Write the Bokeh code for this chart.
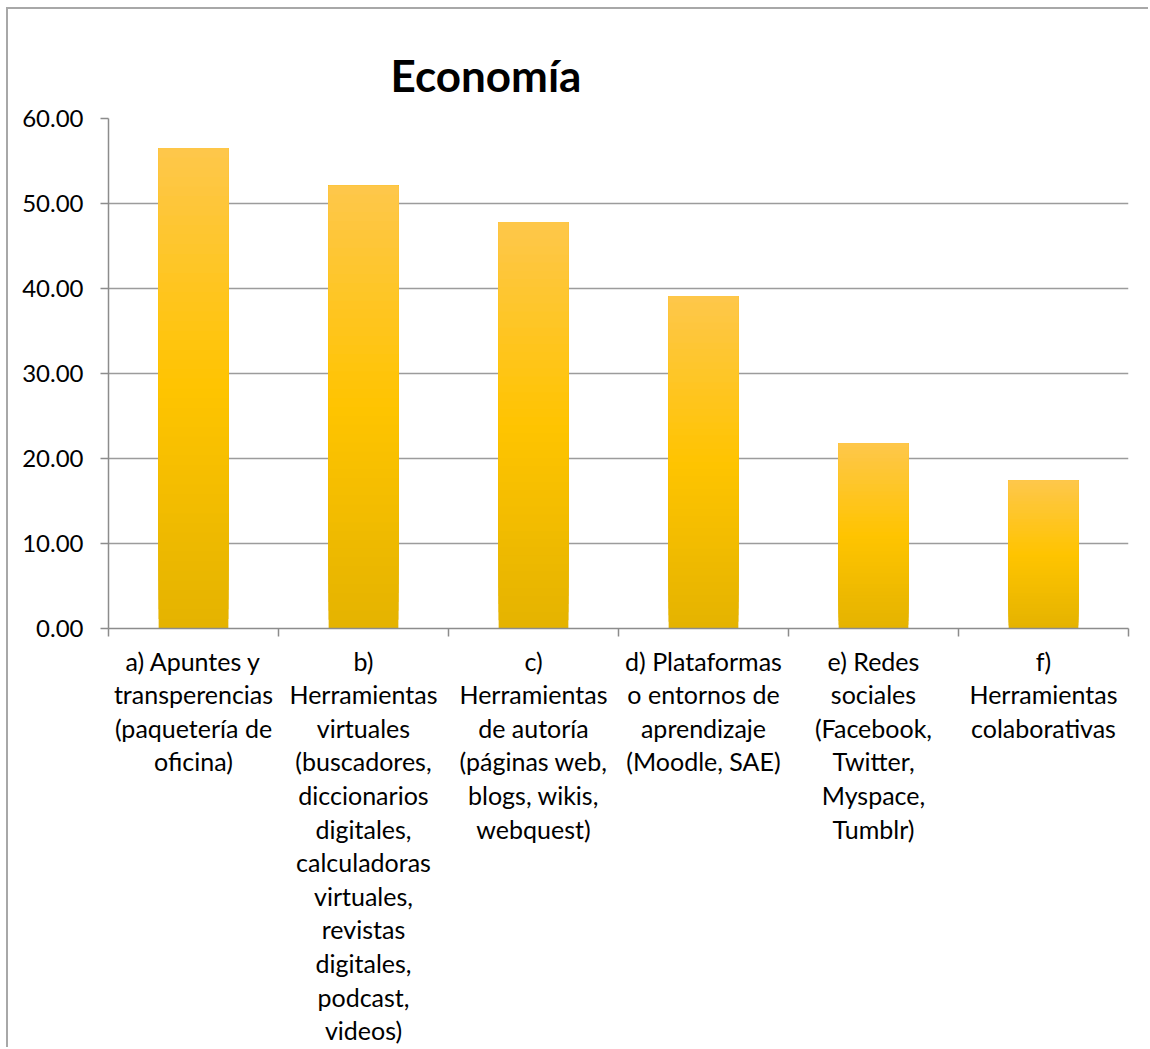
from bokeh.plotting import figure
from bokeh.models import Range1d, FixedTicker, NumeralTickFormatter, ColumnDataSource
from bokeh.embed import file_html
from bokeh.resources import INLINE

# ---- data ----
labels = [
    "a) Apuntes y\ntransperencias\n(paquetería de\noficina)",
    "b)\nHerramientas\nvirtuales\n(buscadores,\ndiccionarios\ndigitales,\ncalculadoras\nvirtuales,\nrevistas\ndigitales,\npodcast,\nvideos)",
    "c)\nHerramientas\nde autoría\n(páginas web,\nblogs, wikis,\nwebquest)",
    "d) Plataformas\no entornos de\naprendizaje\n(Moodle, SAE)",
    "e) Redes\nsociales\n(Facebook,\nTwitter,\nMyspace,\nTumblr)",
    "f)\nHerramientas\ncolaborativas",
]
values = [56.5, 52.1, 47.8, 39.1, 21.8, 17.4]
y_ticks = [0, 10, 20, 30, 40, 50, 60]
title_text = "Economía"

FONT = "Lato"
n = len(values)
centers = [i + 0.5 for i in range(n)]
bounds = list(range(n + 1))

p = figure(width=1142, height=1040, output_backend="svg", toolbar_location=None,
           x_range=Range1d(0, n), y_range=Range1d(0, 60),
           min_border_left=100, min_border_right=22, min_border_top=109, min_border_bottom=421,
           margin=(7, 0, 0, 6))
p.styles = {"border-left": "2px solid #a8a8a8", "border-top": "2px solid #a8a8a8"}
p.outline_line_color = None
p.background_fill_color = "white"
p.border_fill_color = "white"

p.title.text = title_text
p.title.text_font = FONT
p.title.text_font_style = "bold"
p.title.text_font_size = "44px"
p.title.text_color = "black"
p.title.align = "left"
p.title.offset = 282
p.title.standoff = 36

# gradient per bar: stops bottom->top
stops = [(0.0, (228, 179, 0)), (0.5, (255, 196, 0)), (1.0, (254, 199, 75))]

def col(t):
    for (t0, c0), (t1, c1) in zip(stops[:-1], stops[1:]):
        if t0 <= t <= t1:
            f = (t - t0) / (t1 - t0)
            return "#%02x%02x%02x" % tuple(int(round(a + (b - a) * f)) for a, b in zip(c0, c1))
    return "#%02x%02x%02x" % stops[-1][1]

N = 50
xs, bots, tops, cols = [], [], [], []
for k in range(N):
    for i, v in enumerate(values):
        xs.append(centers[i])
        bots.append(v * k / N)
        tops.append(v)
        cols.append(col((k + 0.5) / N))
src = ColumnDataSource(dict(x=xs, bottom=bots, top=tops, color=cols))

# grid
p.xgrid.grid_line_color = None
p.ygrid.grid_line_color = "#9c9c9c"
p.ygrid.grid_line_width = 1.5
p.ygrid.ticker = FixedTicker(ticks=y_ticks)

p.vbar(x="x", bottom="bottom", top="top", width=0.41, fill_color="color",
       line_color=None, source=src)

# y axis
ya = p.yaxis[0]
ya.ticker = FixedTicker(ticks=y_ticks)
ya.formatter = NumeralTickFormatter(format="0.00")
ya.axis_line_color = "#8c8c8c"
ya.axis_line_width = 1.5
ya.major_tick_line_color = "#8c8c8c"
ya.major_tick_line_width = 1.5
ya.major_tick_out = 8
ya.major_tick_in = 0
ya.minor_tick_line_color = None
ya.major_label_standoff = 17
ya.major_label_text_font = FONT
ya.major_label_text_font_size = "24px"
ya.major_label_text_color = "black"

# x axis
xa = p.xaxis[0]
xa.ticker = FixedTicker(ticks=centers, minor_ticks=bounds)
xa.major_label_overrides = {c: l for c, l in zip(centers, labels)}
xa.axis_line_color = "#8c8c8c"
xa.axis_line_width = 1.5
xa.major_tick_line_color = None
xa.major_tick_out = 8
xa.major_tick_in = 0
xa.minor_tick_line_color = "#8c8c8c"
xa.minor_tick_line_width = 1.5
xa.minor_tick_out = 8
xa.minor_tick_in = 0
xa.major_label_standoff = 9
xa.major_label_orientation = "horizontal"
xa.major_label_text_font = FONT
xa.major_label_text_font_size = "25px"
xa.major_label_text_color = "black"
xa.major_label_text_line_height = 1.12
xa.major_label_text_align = "center"

open("out.html", "w").write(file_html(p, INLINE))
